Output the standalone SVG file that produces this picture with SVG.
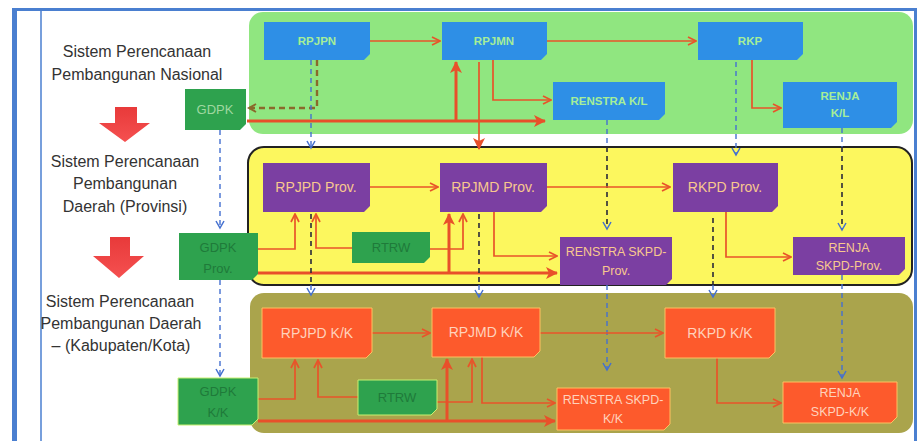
<svg xmlns="http://www.w3.org/2000/svg" width="919" height="441" viewBox="0 0 919 441">
<style>
.lbl{font-family:"Liberation Sans",Arial,sans-serif;font-size:16px;fill:#333;text-anchor:middle}
.bt{font-family:"Liberation Sans",Arial,sans-serif;text-anchor:middle}
.blue path{fill:#2e8fe6}
.blue text{fill:#a6ee98;font-size:11.5px;font-weight:bold}
.pur path{fill:#7b3fa2}
.pur text{fill:#f8c88e;font-size:14px}
.pur text.s{font-size:12.5px}
.red path{fill:#fd5a2c;stroke:#ffc060;stroke-width:1}
.red text{fill:#ffd2bc;font-size:14px}
.red text.s{font-size:12.5px}
.grn path{fill:#2ea24e}
.grn text{fill:#1f7a3a;font-size:13px}
.grn.lt text{fill:#9fd8a0}
.grn.ol path{stroke:#c8f070;stroke-width:1}
.c{fill:none;stroke:#e8542a;stroke-width:1.7}
.t{fill:none;stroke:#e8502a;stroke-width:3}
.db{fill:none;stroke:#4470d0;stroke-width:1.4;stroke-dasharray:5 4}
.dk{fill:none;stroke:#2a2a3a;stroke-width:1.6;stroke-dasharray:5 4}
.br{fill:none;stroke:#8a6a2a;stroke-width:2.4;stroke-dasharray:6 4}
</style>
<defs>
<marker id="a" markerUnits="userSpaceOnUse" markerWidth="10" markerHeight="10" refX="9" refY="5" orient="auto"><path d="M1,1 L9,5 L1,9" fill="none" stroke="#e8542a" stroke-width="1.7"/></marker>
<marker id="at" markerUnits="userSpaceOnUse" markerWidth="12" markerHeight="12" refX="11" refY="6" orient="auto"><path d="M0,0 L12,6 L0,12 L3,6 Z" fill="#e8502a"/></marker>
<marker id="ab" markerUnits="userSpaceOnUse" markerWidth="10" markerHeight="10" refX="8" refY="5" orient="auto"><path d="M1,1 L8,5 L1,9" fill="none" stroke="#4470d0" stroke-width="1.5"/></marker>
<marker id="abr" markerUnits="userSpaceOnUse" markerWidth="10" markerHeight="10" refX="8" refY="5" orient="auto"><path d="M1,1 L8,5 L1,9" fill="none" stroke="#8a6a2a" stroke-width="2"/></marker>
<linearGradient id="rg" x1="0" y1="0" x2="0" y2="1"><stop offset="0" stop-color="#e83a3a"/><stop offset="1" stop-color="#f55050"/></linearGradient>
</defs>

<!-- frame -->
<g id="frame">
<rect x="12" y="8" width="5" height="433" fill="#4a7fd0"/>
<line x1="12" y1="9.5" x2="917" y2="9.5" stroke="#4a7fd0" stroke-width="3"/>
<line x1="915.5" y1="8" x2="915.5" y2="441" stroke="#4a7fd0" stroke-width="3"/>
<line x1="41" y1="9" x2="41" y2="441" stroke="#4a7fd0" stroke-width="1.5"/>
</g>

<!-- bands -->
<g id="bands">
<rect x="249" y="12" width="664" height="122" rx="14" fill="#90e680"/>
<rect x="248" y="147" width="664" height="138" rx="16" fill="#fcf75e" stroke="#222" stroke-width="2"/>
<rect x="250" y="293" width="663" height="140" rx="14" fill="#aaa44c"/>
</g>

<!-- left labels -->
<g id="labels">
<text class="lbl" x="137" y="57">Sistem Perencanaan</text>
<text class="lbl" x="137" y="80">Pembangunan Nasional</text>
<polygon points="115,107 137,107 137,123 150,123 125,142 99,123 115,123" fill="url(#rg)"/>
<text class="lbl" x="125" y="167">Sistem Perencanaan</text>
<text class="lbl" x="125" y="189">Pembangunan</text>
<text class="lbl" x="125" y="212">Daerah (Provinsi)</text>
<polygon points="110,237 130,237 130,256 144,256 119,278 93,256 110,256" fill="url(#rg)"/>
<text class="lbl" x="120" y="307">Sistem Perencanaan</text>
<text class="lbl" x="121" y="329">Pembangunan Daerah</text>
<text class="lbl" x="121" y="351">– (Kabupaten/Kota)</text>
</g>

<!-- connectors -->
<g id="connectors">
<!-- national -->
<path class="c" d="M370 41 H440" marker-end="url(#a)"/>
<path class="c" d="M547 41 H696" marker-end="url(#a)"/>
<path class="c" d="M752 60 V108 H781" marker-end="url(#a)"/>
<path class="c" d="M493 60 V100 H551" marker-end="url(#a)"/>
<path class="t" d="M247 121 H545" marker-end="url(#at)"/>
<path class="t" d="M456 121 V62" marker-end="url(#at)"/>
<path class="c" d="M479 62 V149" marker-end="url(#at)"/>
<path class="br" d="M317 60 V108 H249" marker-end="url(#abr)"/>
<path class="db" d="M311 60 V148" marker-end="url(#ab)"/>
<path class="db" d="M220 130 V228" marker-end="url(#ab)"/>
<path class="db" d="M607 120 V147"/>
<path class="dk" d="M607 147 V229" marker-end="url(#ab)"/>
<path class="db" d="M736 62 V155" marker-end="url(#ab)"/>
<path class="db" d="M842 128 V147"/>
<path class="dk" d="M842 147 V230" marker-end="url(#ab)"/>
<!-- province -->
<path class="c" d="M370 187 H438" marker-end="url(#a)"/>
<path class="c" d="M547 187 H670" marker-end="url(#a)"/>
<path class="c" d="M726 212 V257 H791" marker-end="url(#a)"/>
<path class="c" d="M494 212 V256 H557" marker-end="url(#a)"/>
<path class="t" d="M258 273 H557" marker-end="url(#at)"/>
<path class="c" d="M258 249 H295 V214" marker-end="url(#a)"/>
<path class="c" d="M352 248 H316 V214" marker-end="url(#a)"/>
<path class="c" d="M430 249 H463 V214" marker-end="url(#a)"/>
<path class="t" d="M449 273 V214" marker-end="url(#at)"/>
<path class="dk" d="M311 214 V285"/>
<path class="db" d="M311 285 V295" marker-end="url(#ab)"/>
<path class="dk" d="M479 214 V285"/>
<path class="db" d="M479 285 V297" marker-end="url(#ab)"/>
<path class="dk" d="M713 218 V285"/>
<path class="db" d="M713 285 V297" marker-end="url(#ab)"/>
<path class="db" d="M607 285 V370" marker-end="url(#ab)"/>
<path class="db" d="M842 275 V378" marker-end="url(#ab)"/>
<path class="db" d="M220 280 V376" marker-end="url(#ab)"/>
<!-- kab/kota -->
<path class="c" d="M372 333 H430" marker-end="url(#a)"/>
<path class="c" d="M540 333 H663" marker-end="url(#a)"/>
<path class="c" d="M717 358 V403 H781" marker-end="url(#a)"/>
<path class="c" d="M482 357 V403 H555" marker-end="url(#a)"/>
<path class="t" d="M258 421 H555" marker-end="url(#at)"/>
<path class="c" d="M258 399 H295 V360" marker-end="url(#a)"/>
<path class="c" d="M358 397 H318 V360" marker-end="url(#a)"/>
<path class="c" d="M437 402 H472 V359" marker-end="url(#a)"/>
<path class="t" d="M447 421 V359" marker-end="url(#at)"/>
</g>

<!-- national nodes -->
<g id="rpjpn" class="blue"><path d="M264 22 H370 V54 L364 60 H264 Z"/><text class="bt" x="317" y="45">RPJPN</text></g>
<g id="rpjmn" class="blue"><path d="M442 22 H547 V54 L541 60 H442 Z"/><text class="bt" x="494" y="45">RPJMN</text></g>
<g id="rkp" class="blue"><path d="M698 22 H803 V54 L797 60 H698 Z"/><text class="bt" x="750" y="45">RKP</text></g>
<g id="renstra-kl" class="blue"><path d="M553 82 H665 V114 L659 120 H553 Z"/><text class="bt" x="609" y="105">RENSTRA K/L</text></g>
<g id="renja-kl" class="blue"><path d="M783 82 H897 V122 L891 128 H783 Z"/><text class="bt" x="840" y="100">RENJA</text><text class="bt" x="840" y="117">K/L</text></g>
<g id="gdpk" class="grn lt"><path d="M185 89 H246 V124 L240 130 H185 Z"/><text class="bt" x="215" y="114">GDPK</text></g>

<!-- province nodes -->
<g id="rpjpd-prov" class="pur"><path d="M263 163 H370 V206 L364 212 H263 Z"/><text class="bt" x="316" y="192">RPJPD Prov.</text></g>
<g id="rpjmd-prov" class="pur"><path d="M440 163 H547 V206 L541 212 H440 Z"/><text class="bt" x="493" y="192">RPJMD Prov.</text></g>
<g id="rkpd-prov" class="pur"><path d="M673 163 H778 V206 L772 212 H673 Z"/><text class="bt" x="725" y="192">RKPD Prov.</text></g>
<g id="renstra-prov" class="pur"><path d="M560 237 H672 V279 L666 285 H560 Z"/><text class="bt s" x="616" y="256">RENSTRA SKPD-</text><text class="bt s" x="616" y="275">Prov.</text></g>
<g id="renja-prov" class="pur"><path d="M793 237 H905 V269 L899 275 H793 Z"/><text class="bt s" x="849" y="252">RENJA</text><text class="bt s" x="849" y="270">SKPD-Prov.</text></g>
<g id="gdpk-prov" class="grn"><path d="M179 233 H258 V274 L252 280 H179 Z"/><text class="bt" x="218" y="252">GDPK</text><text class="bt" x="218" y="273">Prov.</text></g>
<g id="rtrw-prov" class="grn"><path d="M352 232 H430 V257 L424 263 H352 Z"/><text class="bt" x="391" y="252">RTRW</text></g>

<!-- kab/kota nodes -->
<g id="rpjpd-kk" class="red"><path d="M262 308 H372 V352 L366 358 H262 Z"/><text class="bt" x="317" y="338">RPJPD K/K</text></g>
<g id="rpjmd-kk" class="red"><path d="M432 308 H540 V351 L534 357 H432 Z"/><text class="bt" x="486" y="337">RPJMD K/K</text></g>
<g id="rkpd-kk" class="red"><path d="M665 308 H775 V352 L769 358 H665 Z"/><text class="bt" x="720" y="338">RKPD K/K</text></g>
<g id="renstra-kk" class="red"><path d="M557 388 H670 V424 L664 430 H557 Z"/><text class="bt s" x="613" y="404">RENSTRA SKPD-</text><text class="bt s" x="613" y="423">K/K</text></g>
<g id="renja-kk" class="red"><path d="M783 382 H897 V417 L891 423 H783 Z"/><text class="bt s" x="840" y="397">RENJA</text><text class="bt s" x="840" y="416">SKPD-K/K</text></g>
<g id="gdpk-kk" class="grn ol"><path d="M178 378 H258 V419 L252 425 H178 Z"/><text class="bt" x="218" y="396">GDPK</text><text class="bt" x="218" y="417">K/K</text></g>
<g id="rtrw-kk" class="grn ol"><path d="M358 380 H437 V409 L431 415 H358 Z"/><text class="bt" x="397" y="402">RTRW</text></g>
</svg>
